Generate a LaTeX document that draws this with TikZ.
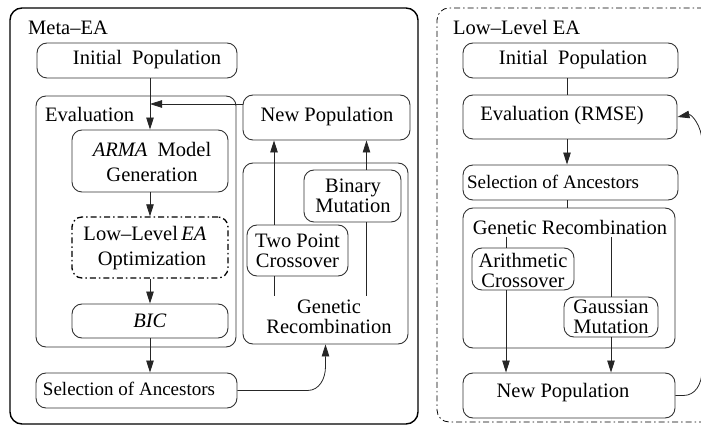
\documentclass[tikz,border=0pt]{standalone}
\usepackage{fontspec}
\setmainfont{Liberation Serif}
\usetikzlibrary{arrows.meta,calc}
\begin{document}
\begin{tikzpicture}[x=1pt,y=-1pt,
  box/.style={draw=black!80,line width=0.9pt,rounded corners=10pt,rectangle,inner sep=0pt},
  txt/.style={inner sep=1pt,font=\fontsize{20.5}{20}\selectfont,align=center},
  txtw/.style={inner sep=1pt,font=\fontsize{20.5}{25}\selectfont,align=center},
  txts/.style={inner sep=1pt,font=\fontsize{19}{20}\selectfont,align=center},
  ddot/.style={dash pattern=on 6pt off 3pt on 1.5pt off 3pt},
  conn/.style={draw=black!85,line width=0.8pt},
  arr/.style={conn,-{Triangle[length=12pt,width=7.5pt]}}]
\useasboundingbox (0,0) rectangle (701,427);
% ---------- Meta-EA ----------
\node[draw=black,line width=1.4pt,rounded corners=12pt,rectangle,minimum width=408pt,minimum height=416pt,inner sep=0pt] (meta) at (214,216) {};
\node[txt,anchor=base west,inner sep=0pt] (metat) at (28,35) {Meta--EA};
\node[box,minimum width=200pt,minimum height=35pt] (ip1) at (137,60.5) {};
\node[txt] (ip1t) at (147,60) {Initial~~Population};
\node[box,minimum width=200pt,minimum height=251pt] (ev1) at (136,221.5) {};
\node[txt,anchor=base west,inner sep=0pt] (ev1t) at (45,122) {Evaluation};
\node[box,minimum width=156pt,minimum height=62pt] (arma) at (150,161) {};
\node[txtw] (armat) at (152,162) {\textit{ARMA}~~Model\\Generation};
\node[box,ddot,draw=black,line width=1.3pt,minimum width=156pt,minimum height=61pt] (ll) at (150,247.5) {};
\node[txtw] (llt) at (145,248) {Low--Level\,\textit{EA}\\\hspace*{14pt}Optimization};
\node[box,minimum width=156pt,minimum height=34pt] (bic) at (150,321) {};
\node[txt] (bict) at (150,321) {\textit{BIC}};
\node[box,minimum width=201pt,minimum height=35pt] (sel1) at (136.5,390.5) {};
\node[txts] (sel1t) at (129,389) {Selection of Ancestors};
\node[box,minimum width=167pt,minimum height=45pt] (np1) at (326.5,117.5) {};
\node[txt] (np1t) at (327,117) {New Population};
\node[box,minimum width=165pt,minimum height=181pt] (gr1) at (325.5,253.5) {};
\node[txt,inner sep=4pt] (grt1) at (329,317) {Genetic\\Recombination};
\node[box,minimum width=101pt,minimum height=51pt] (tp) at (297.5,250.5) {};
\node[txt] (tpt) at (297.5,251) {Two Point\\Crossover};
\node[box,minimum width=97pt,minimum height=52pt] (bm) at (352.5,196) {};
\node[txt] (bmt) at (353,196) {Binary\\Mutation};
% connectors left
\coordinate (j1) at (150,104);
\coordinate (c4) at (274,0);
\coordinate (c5) at (366.5,0);
\draw[arr] (arma.north |- ip1.south) -- (arma.north);
\draw[arr] (np1.west |- j1) -- (j1);
\draw[arr] (arma.south) -- (ll.north);
\draw[arr] (ll.south) -- (bic.north);
\draw[arr] (bic.south) -- (bic.south |- sel1.north);
\draw[arr] (sel1.east) -- ($(gr1.south |- sel1.east)+(-18,0)$) .. controls +(12,0) and +(0,12) .. ($(gr1.south)+(0,22)$) -- (gr1.south);
\draw[conn] (c4 |- grt1.north) -- (c4 |- tp.south);
\draw[arr] (c4 |- tp.north) -- (c4 |- np1.south);
\draw[conn] (c5 |- grt1.north) -- (c5 |- bm.south);
\draw[arr] (c5 |- bm.north) -- (c5 |- np1.south);
% ---------- Low-Level EA ----------
\node[draw=black,line width=0.8pt,ddot,rounded corners=12pt,rectangle,minimum width=278pt,minimum height=414pt,inner sep=0pt] (low) at (576,215) {};
\node[txt,anchor=base west,inner sep=0pt] (lowt) at (453,35) {Low--Level EA};
\node[box,minimum width=215pt,minimum height=35pt] (ip2) at (570.5,60.5) {};
\node[txt] (ip2t) at (573,60) {Initial~~Population};
\node[box,minimum width=214pt,minimum height=44pt] (ev2) at (570,117) {};
\node[txt] (ev2t) at (562,116) {Evaluation (RMSE)};
\node[box,minimum width=215pt,minimum height=35pt] (sel2) at (570.5,182.5) {};
\node[txts] (sel2t) at (553,182) {Selection of Ancestors};
\node[box,minimum width=212pt,minimum height=140pt] (gr2) at (569,278) {};
\node[txt,inner sep=3pt] (grt2) at (570,227) {Genetic Recombination};
\node[box,minimum width=102pt,minimum height=42pt] (ac) at (523,269) {};
\node[txt] (act) at (523,270) {Arithmetic\\Crossover};
\node[box,minimum width=94pt,minimum height=40pt] (gm) at (611,317) {};
\node[txt] (gmt) at (611,317) {Gaussian\\Mutation};
\node[box,minimum width=212pt,minimum height=45pt] (np2) at (569,395.5) {};
\node[txt] (np2t) at (563,393) {New Population};
% connectors right
\coordinate (c2) at (567,0);
\coordinate (c3) at (506,0);
\coordinate (r1) at (702,370);
\coordinate (r2) at (702,142);
\draw[conn] (c2 |- ip2.south) -- (c2 |- ev2.north);
\draw[arr] (c2 |- ev2.south) -- (c2 |- sel2.north);
\draw[conn] (c2 |- sel2.south) -- (c2 |- gr2.north);
\draw[conn] (c3 |- grt2.south) -- (c3 |- ac.north);
\draw[arr] (c3 |- ac.south) -- (c3 |- np2.north);
\draw[conn] (gm.north |- grt2.south) -- (gm.north);
\draw[arr] (gm.south) -- (gm.south |- np2.north);
\draw[arr] (np2.east) -- ++(8,0) .. controls +(12,0) and +(0,14) .. (r1) -- (r2) .. controls +(0,-16) and +(14,-3) .. (ev2.east);
\end{tikzpicture}
\end{document}
